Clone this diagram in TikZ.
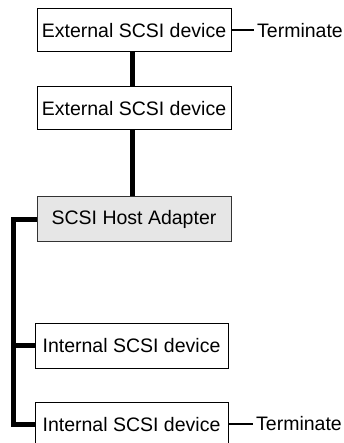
\documentclass[tikz,border=0pt]{standalone}
\usepackage{fontspec}
\setmainfont{Liberation Sans}
\definecolor{hostfill}{HTML}{E6E6E6}
\definecolor{hostdraw}{HTML}{333333}
\begin{document}
\begin{tikzpicture}[x=1pt,y=-1pt,
  every node/.style={font=\fontsize{19.5}{22}\selectfont},
  devbox/.style={draw=black, line width=1pt, fill=white, minimum width=194pt, minimum height=43pt, inner sep=0pt},
  hostbox/.style={devbox, fill=hostfill, draw=hostdraw, minimum height=44pt},
  intbox/.style={devbox, minimum width=193pt, minimum height=45pt},
  bus/.style={line width=5pt},
  term/.style={line width=2pt},
  termtext/.style={anchor=west, inner sep=3pt}
]
\useasboundingbox (0,0) rectangle (343,443);
\node[devbox] (e1) at (134,30.5) {External SCSI device};
\node[devbox] (e2) at (134,108.5) {External SCSI device};
\node[hostbox] (h) at (134,219) {SCSI Host Adapter};
\node[intbox] (i1) at (131.5,345.5) {Internal SCSI device};
\node[intbox] (i2) at (131.5,424.5) {Internal SCSI device};
\node[termtext] (t1) at (254,30.5) {Terminate};
\node[termtext] (t2) at (253,423.5) {Terminate};
\coordinate (busx) at (13.5,219);
\draw[bus] ([xshift=-1.5pt]e1.south) -- ([xshift=-1.5pt]e2.north);
\draw[bus] ([xshift=-1.5pt]e2.south) -- ([xshift=-1.5pt]h.north);
\draw[bus, line join=miter] (h.west) -- (busx) |- (i2.west);
\draw[bus] (i1.west) -- (i1.west -| busx);
\draw[term] (e1.east) -- (t1.west);
\draw[term] (i2.east |- t2.west) -- (t2.west);
\end{tikzpicture}
\end{document}
